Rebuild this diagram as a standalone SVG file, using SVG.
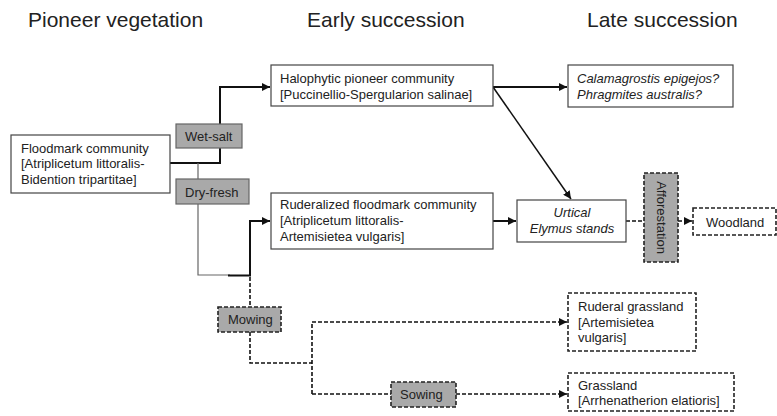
<svg xmlns="http://www.w3.org/2000/svg" width="777" height="416" viewBox="0 0 777 416">
<style>
text{font-family:"Liberation Sans",Arial,sans-serif;fill:#222;font-size:13px}
.title{font-size:21px}
.it{font-style:italic}
.box{fill:#fff;stroke:#444;stroke-width:1.2}
.gbox{fill:#a9a9a9;stroke:#666;stroke-width:1.2}
.dbox{fill:#fff;stroke:#222;stroke-width:1.6;stroke-dasharray:4 2}
.dgbox{fill:#a9a9a9;stroke:#222;stroke-width:1.6;stroke-dasharray:4 2}
.thick{fill:none;stroke:#111;stroke-width:2}
.thin{fill:none;stroke:#666;stroke-width:1.2}
.diag{fill:none;stroke:#111;stroke-width:1.5}
.dash{fill:none;stroke:#111;stroke-width:1.6;stroke-dasharray:4 2}
</style>
<defs>
<marker id="ah" viewBox="0 0 10 10" refX="10" refY="5" markerWidth="8" markerHeight="8" markerUnits="userSpaceOnUse" orient="auto">
<path d="M0,0 L10,5 L0,10 z" fill="#111"/>
</marker>
</defs>
<rect width="777" height="416" fill="#fff"/>
<g id="titles">
<text class="title" x="28" y="27">Pioneer vegetation</text>
<text class="title" x="307" y="27">Early succession</text>
<text class="title" x="587" y="27">Late succession</text>
</g>
<g id="connectors">
<path class="thick" d="M170,163 H220 V87 H270" marker-end="url(#ah)"/>
<path class="thin" d="M198,163 V275 H230"/>
<path class="thick" d="M228,275.5 H250 V221 H270" marker-end="url(#ah)"/>
<path class="thick" d="M493,87 H567" marker-end="url(#ah)"/>
<path class="diag" d="M493,87 L571,199" marker-end="url(#ah)"/>
<path class="thick" d="M493,221 H516" marker-end="url(#ah)"/>
<path class="dash" d="M250,277 V307"/>
<path class="dash" d="M250,332 V363 H312"/>
<path class="dash" d="M312,394 V322 H567" marker-end="url(#ah)"/>
<path class="dash" d="M312,394 H391"/>
<path class="dash" d="M456,394 H567" marker-end="url(#ah)"/>
<path class="dash" d="M626,221 H644"/>
<path class="dash" d="M678,221 H692" marker-end="url(#ah)"/>
</g>
<g id="floodmark">
<rect class="box" x="11" y="135" width="159" height="58"/>
<text x="21" y="152.5">Floodmark community</text>
<text x="21" y="168">[Atriplicetum littoralis-</text>
<text x="21" y="183.5">Bidention tripartitae]</text>
</g>
<g id="wetsalt">
<rect class="gbox" x="176" y="124" width="66" height="24"/>
<text x="185" y="141">Wet-salt</text>
</g>
<g id="dryfresh">
<rect class="gbox" x="176" y="179" width="73" height="25"/>
<text x="185" y="197">Dry-fresh</text>
</g>
<g id="halophytic">
<rect class="box" x="271" y="65" width="222" height="41"/>
<text x="280" y="83">Halophytic pioneer community</text>
<text x="280" y="98.5">[Puccinellio-Spergularion salinae]</text>
</g>
<g id="ruderalized">
<rect class="box" x="271" y="193" width="222" height="56"/>
<text x="280" y="209">Ruderalized floodmark community</text>
<text x="280" y="225">[Atriplicetum littoralis-</text>
<text x="280" y="241">Artemisietea vulgaris]</text>
</g>
<g id="calamagrostis">
<rect class="box" x="568" y="65" width="165" height="42"/>
<text class="it" x="577" y="83">Calamagrostis epigejos?</text>
<text class="it" x="577" y="98.5">Phragmites australis?</text>
</g>
<g id="urtical">
<rect class="box" x="517" y="200" width="109" height="42"/>
<text class="it" x="572" y="217" text-anchor="middle">Urtical</text>
<text class="it" x="572" y="233" text-anchor="middle">Elymus stands</text>
</g>
<g id="afforestation">
<rect class="dgbox" x="644" y="173" width="34" height="89"/>
<text x="0" y="0" text-anchor="middle" transform="translate(656.5,217.5) rotate(90)">Afforestation</text>
</g>
<g id="woodland">
<rect class="dbox" x="693" y="208" width="83" height="27"/>
<text x="706" y="227">Woodland</text>
</g>
<g id="mowing">
<rect class="dgbox" x="218" y="307" width="63" height="25"/>
<text x="228" y="324">Mowing</text>
</g>
<g id="sowing">
<rect class="dgbox" x="391" y="382" width="65" height="25"/>
<text x="400" y="399">Sowing</text>
</g>
<g id="ruderalgrassland">
<rect class="dbox" x="568" y="293" width="128" height="58"/>
<text x="578" y="311">Ruderal grassland</text>
<text x="578" y="326.5">[Artemisietea</text>
<text x="578" y="342">vulgaris]</text>
</g>
<g id="grassland">
<rect class="dbox" x="568" y="373" width="166" height="38"/>
<text x="578" y="390">Grassland</text>
<text x="578" y="405">[Arrhenatherion elatioris]</text>
</g>
</svg>
